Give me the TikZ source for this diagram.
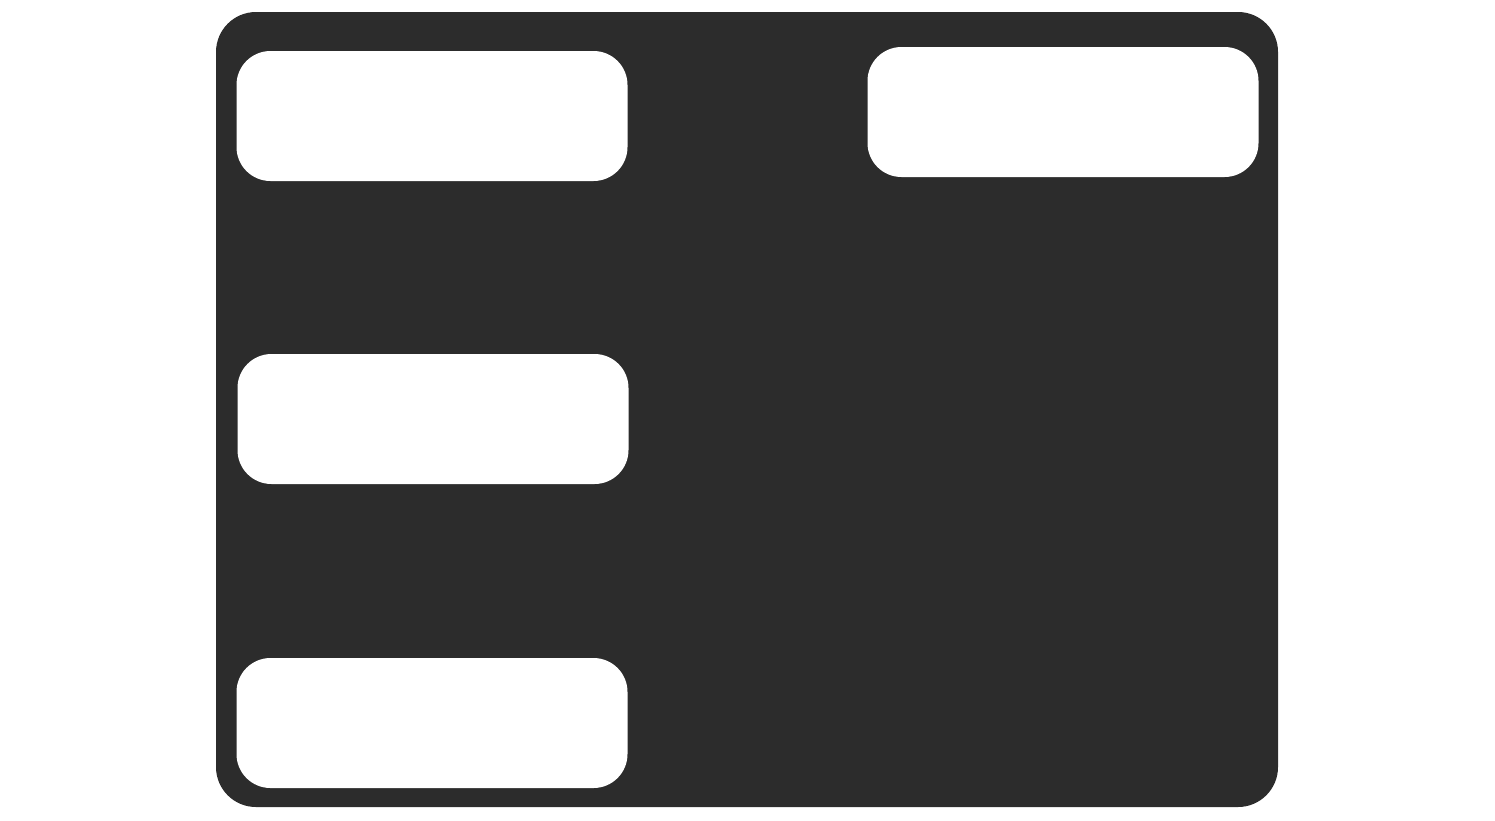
\documentclass[tikz,border=0pt]{standalone}
\usepackage{fontspec}
\setmainfont{Open Sans}
\usetikzlibrary{arrows.meta}
\definecolor{bg}{HTML}{2C2C2C}
\definecolor{tan}{HTML}{E6C9A2}
\definecolor{lime}{HTML}{D6E29E}
\definecolor{grn}{HTML}{A3D9A0}
\definecolor{blu}{HTML}{A0C6E2}
\definecolor{pnk}{HTML}{E2A3A6}
\definecolor{ttl}{HTML}{222222}
\definecolor{sub}{HTML}{444444}
\begin{document}
\begin{tikzpicture}[x=1pt,y=-1pt,
 box/.style={fill=white,rounded corners=34pt,minimum width=391pt,minimum height=130pt,inner sep=0pt},
 arr/.style={line width=5pt,line cap=round,-{Straight Barb[length=20pt,width=46pt,line cap=round,line join=round]}},
 lab/.style={font=\fontsize{19}{22}\selectfont}]
\useasboundingbox (0,0) rectangle (1495,820);
\fill[bg,rounded corners=40pt] (216,12) rectangle (1278,807);
\node[box] (view) at (432,116) {};
\node[box] (user) at (1063,112) {};
\node[box] (vm) at (433,419) {};
\node[box] (model) at (432,723) {};
\newcommand{\boxtext}[3]{%
 \node[text=ttl,font=\bfseries\fontsize{29}{34}\selectfont] (#1t) at ($(#1)+(0,-21)$) {#2};
 \node[text=sub,font=\fontsize{19}{22}\selectfont] (#1s) at ($(#1)+(0,28)$) {#3};}
\end{tikzpicture}
\end{document}
